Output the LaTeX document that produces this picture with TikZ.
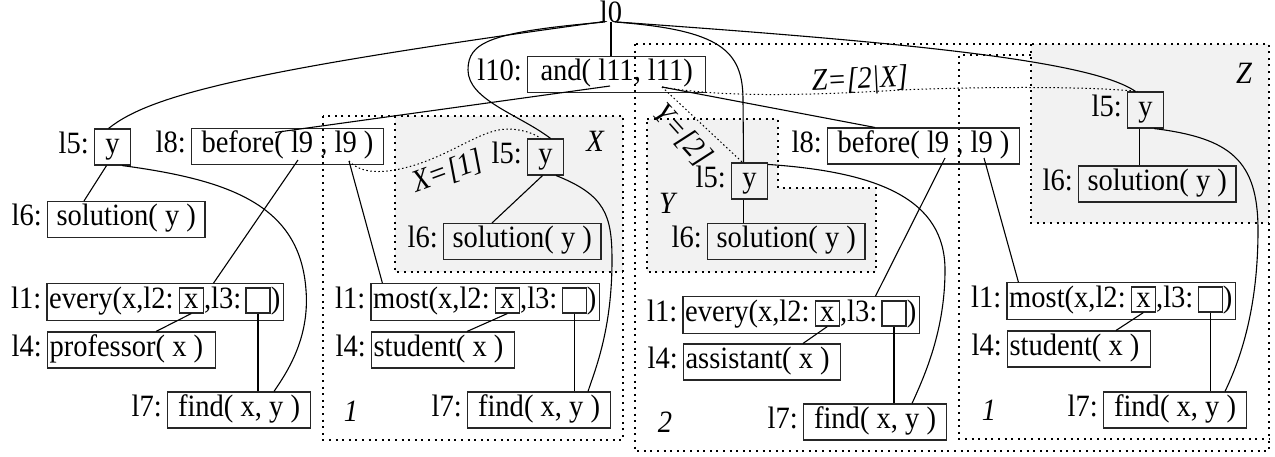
\documentclass[tikz,border=0pt]{standalone}
\usepackage{fontspec}
\setmainfont{Liberation Serif}[FakeStretch=0.92]
\usetikzlibrary{fit}
\newcommand\pad[1]{\makebox[#1]{}}
\newcommand\qbx[5]{%
  \node[tx, anchor=west] (#1t) at (#2+2,#3) {#4(x,l2:\pad{5pt}};
  \node[ib, anchor=base west] (#1x) at (#1t.base east) {x};
  \node[tx, anchor=base west] (#1c) at (#1x.base east) {,l3:\pad{4pt}};
  \node[ib, anchor=base west] (#1e) at (#1c.base east) {};
  \node[tx, anchor=base west] (#1p) at (#1e.base east) {)\pad{1pt}};
  \node[fitbx, fit=(#1t)(#1p)] (#1) {};
  \node[lab] at ([xshift=-5pt]#1.west) {#5};
}
\newcommand\lbx[6][]{%
  \node[bx, anchor=west, #1] (#2) at (#3,#4) {#5};
  \node[lab] at ([xshift=-5pt]#2.west) {#6};
}
\begin{document}
\begin{tikzpicture}[x=1pt,y=-1pt, font=\fontsize{31}{31}\selectfont,
  tx/.style={inner xsep=0pt, inner ysep=3pt, text height=21pt, text depth=9pt},
  bx/.style={tx, draw=black!85, line width=1.1pt, inner xsep=9pt},
  qb/.style={inner xsep=2pt},
  ybx/.style={minimum width=36pt, inner xsep=0pt},
  lab/.style={tx, anchor=east},
  ib/.style={draw=black!85, line width=1.1pt, minimum width=24pt, inner xsep=0pt, inner ysep=3pt, text height=17pt, text depth=2pt},
  fitbx/.style={draw=black!85, line width=1.1pt, inner xsep=2pt, inner ysep=0pt},
  con/.style={line width=1.1pt},
  thdot/.style={line width=1pt, dash pattern=on 1.5pt off 2.5pt},
  dotbox/.style={line width=2pt, dash pattern=on 2pt off 4.6pt},
  itl/.style={font=\fontsize{31}{31}\selectfont\itshape, inner sep=0pt},
]
\useasboundingbox (0,0) rectangle (1275,456);
% grey regions
\fill[black!5] (395,116) rectangle (623,272);
\fill[black!5] (647,119) -- (778,119) -- (778,188) -- (876,188) -- (876,272) -- (647,272) -- cycle;
\fill[black!5] (1031,44) rectangle (1269,223);
% dotted outlines
\draw[dotbox] (323,116) rectangle (623,440);
\draw[dotbox] (395,116) -- (395,272) -- (623,272);
\draw[dotbox] (635,44) rectangle (1269,451);
\draw[dotbox] (647,119) -- (778,119) -- (778,188) -- (876,188) -- (876,272) -- (647,272) -- cycle;
\draw[dotbox] (1031,55) -- (959,55) -- (959,439) -- (1269,439);
\draw[dotbox] (1031,44) -- (1031,223) -- (1269,223);
% top
\node[tx] (l0) at (611,16) {l0};
\coordinate (l0b) at (611,22);
\lbx[inner xsep=13pt]{a10}{527}{74.5}{and( l11, l11)}{l10:}
% left group
\lbx[ybx]{y5a}{94}{147}{y}{l5:}
\lbx[inner xsep=10pt]{b8a}{191}{146.5}{before( l9 , l9 )}{l8:}
\lbx{s6a}{47}{219.5}{solution( y )}{l6:}
\qbx{e1a}{47}{302}{every}{l1:}
\lbx[qb]{p4a}{47}{350}{professor( x )\pad{10pt}}{l4:}
\lbx[inner xsep=10.5pt]{f7a}{167}{410}{find( x, y )}{l7:}
% X group
\lbx[ybx]{y5x}{527}{157}{y}{l5:}
\lbx{s6x}{443}{241.5}{solution( y )}{l6:}
\qbx{m1x}{371}{302}{most}{l1:}
\lbx[qb]{st4x}{371}{350}{student( x )\pad{9pt}}{l4:}
\lbx[inner xsep=10.5pt]{f7x}{467}{410}{find( x, y )}{l7:}
% Y group
\lbx[ybx]{y5y}{731}{181}{y}{l5:}
\lbx{s6y}{707}{241.5}{solution( y )}{l6:}
\lbx[inner xsep=10pt]{b8m}{827}{146}{before( l9 , l9 )}{l8:}
\qbx{e1y}{683}{315}{every}{l1:}
\lbx[qb]{as4}{683}{362}{assistant( x )\pad{9pt}}{l4:}
\lbx[inner xsep=10.5pt]{f7y}{803}{422}{find( x, y )}{l7:}
% Z group
\lbx[ybx]{y5z}{1127}{110}{y}{l5:}
\lbx{s6z}{1078}{184}{solution( y )}{l6:}
\qbx{m1z}{1007}{301}{most}{l1:}
\lbx[qb]{st4z}{1007}{349}{student( x )\pad{9pt}}{l4:}
\lbx[inner xsep=10.5pt]{f7z}{1103}{410}{find( x, y )}{l7:}
% argument points
\coordinate (a10a) at (610,86);
\coordinate (a10b) at (662,87);
\coordinate (b8a1) at (298,160);
\coordinate (b8a2) at (349,161);
\coordinate (b8m1) at (945,158);
\coordinate (b8m2) at (984,158);
% connectors from l0
\draw[con] (l0b) -- (l0b |- a10.north);
\draw[con] ([xshift=-10pt]l0b) .. controls (250,70) and (150,95) .. ([xshift=-4pt]y5a.north);
\draw[con] ([xshift=-6pt]l0b) .. controls (490,32) and (468,42) .. (468,70) .. controls (468,100) and (520,115) .. ([xshift=5pt]y5x.north);
\draw[con] ([xshift=4pt]l0b) .. controls (720,30) and (743,50) .. (743,100) -- ([xshift=-6pt]y5y.north);
\draw[con] ([xshift=6pt]l0b) .. controls (900,42) and (1090,60) .. ([xshift=-10pt]y5z.north);
\draw[con] (a10a) -- ([xshift=84pt,yshift=-4.5pt]b8a.north west);
\draw[con] (a10b) -- ([xshift=48pt]b8m.north west);
\draw[con] (b8a1) -- ([xshift=167pt]e1a.north west);
\draw[con] (b8a2) -- ([xshift=12pt]m1x.north west);
\draw[con] (b8m1) -- ([xshift=193pt]e1y.north west);
\draw[con] (b8m2) -- ([xshift=12pt]m1z.north west);
% left group
\draw[con] ([xshift=-6pt]y5a.south) -- ([xshift=37pt]s6a.north west);
\draw[con] ([xshift=-9pt]y5a.south east) .. controls (230,180) and (300,205) .. (306,290) .. controls (310,340) and (285,375) .. ([xshift=107pt]f7a.north west);
\draw[con] (e1ax.south) -- ([xshift=109pt]p4a.north west);
\draw[con] (e1ae.south) -- (e1ae.south |- f7a.north);
% X group
\draw[con] ([xshift=-3pt]y5x.south) -- ([xshift=49pt]s6x.north west);
\draw[con] ([xshift=-8pt]y5x.south east) .. controls (605,195) and (612,215) .. (612,260) .. controls (612,330) and (595,370) .. ([xshift=121pt]f7x.north west);
\draw[con] (m1xx.south) -- ([xshift=96pt]st4x.north west);
\draw[con] (m1xe.south) -- (m1xe.south |- f7x.north);
% Y group
\draw[con] ([xshift=-6pt]y5y.south) -- ([xshift=-6pt]y5y.south |- s6y.north);
\draw[con] ([yshift=-2pt]y5y.north east) .. controls (880,172) and (945,200) .. (945,270) .. controls (945,330) and (925,375) .. ([xshift=109pt]f7y.north west);
\draw[con] (e1yx.south) -- ([xshift=120pt]as4.north west);
\draw[con] (e1ye.south) -- (e1ye.south |- f7y.north);
% Z group
\draw[con] ([xshift=-6pt]y5z.south) -- ([xshift=-6pt]y5z.south |- s6z.north);
\draw[con] ([xshift=-10pt]y5z.south east) .. controls (1230,138) and (1258,160) .. (1258,230) .. controls (1258,310) and (1240,360) .. ([xshift=122pt]f7z.north west);
\draw[con] (m1zx.south) -- ([xshift=109pt]st4z.north west);
\draw[con] (m1ze.south) -- (m1ze.south |- f7z.north);
% thin dotted bindings
\draw[thdot] (b8a2) .. controls (362,175) and (385,172) .. (400,169) .. controls (450,158) and (480,128) .. (510,129) .. controls (525,130) and (535,134) .. ([xshift=-5pt]y5x.north);
\draw[thdot] (a10b) -- ([xshift=-7pt]y5y.north);
\draw[thdot] (a10b) .. controls (720,97) and (800,96) .. (900,90) .. controls (1000,86) and (1100,87) .. ([xshift=-8pt]y5z.north);
% labels
\node[itl, rotate=20] (lx) at (448,172) {X=[1]};
\node[itl, rotate=-48] (ly) at (682,135) {Y=[2]};
\node[itl, rotate=3] (lz) at (860,81) {Z=[2|X]};
\node[itl] (nx) at (595,141) {X};
\node[itl] (ny) at (667,203) {Y};
\node[itl] (nz) at (1244,73) {Z};
\node[itl] (n1a) at (351,411) {1};
\node[itl] (n2) at (665,422) {2};
\node[itl] (n1b) at (989,410) {1};
\end{tikzpicture}
\end{document}
